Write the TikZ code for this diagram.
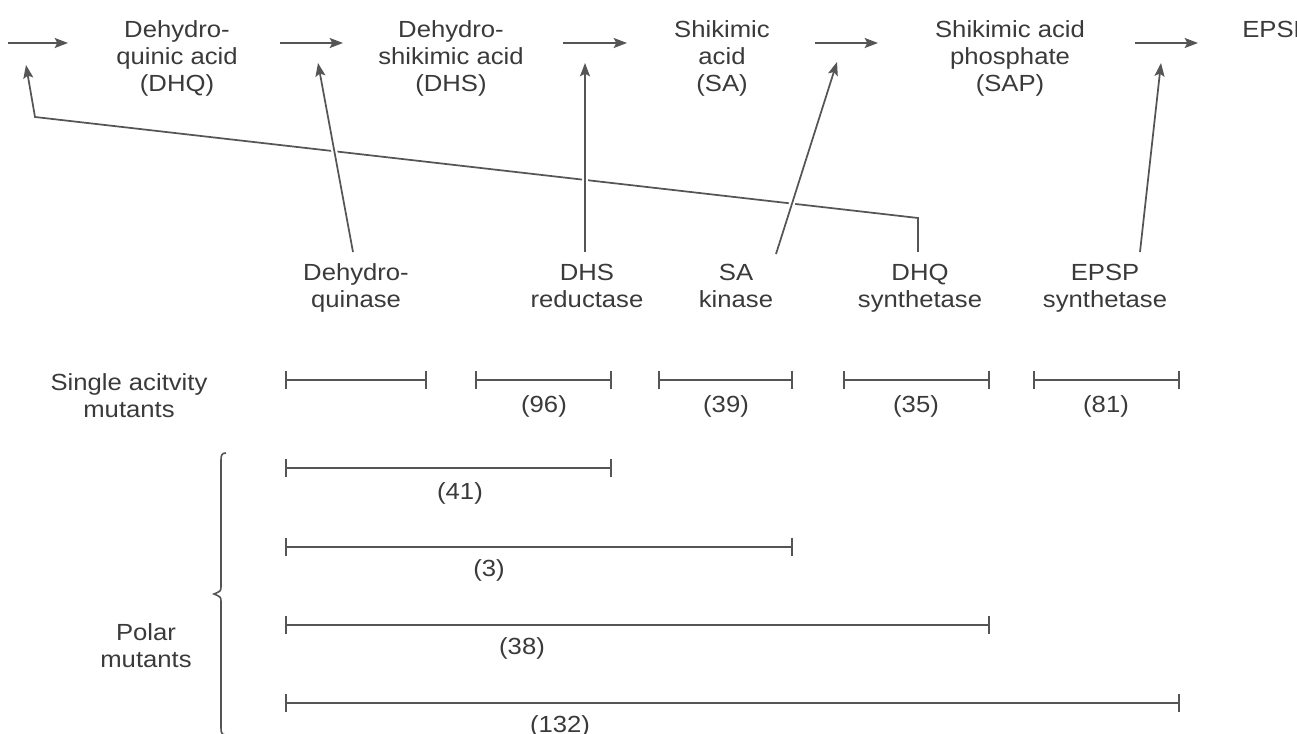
\documentclass[tikz,border=0pt]{standalone}
\usepackage{fontspec}
\setmainfont[FakeStretch=1.1]{Liberation Sans}
\usetikzlibrary{arrows.meta}
\definecolor{ink}{HTML}{3A3A3A}
\definecolor{rule}{HTML}{555555}

\tikzset{
  lbl/.style={font=\fontsize{17.5}{20.25}\selectfont, text=ink, align=center,
              inner sep=0pt, anchor=base},
  num/.style={lbl},
  conn/.style={draw=rule, line width=1.3pt,
               -{Stealth[length=10pt,width=7.5pt,inset=2pt]}},
  enz/.style={conn, preaction={draw=white, line width=4.5pt, -}},
  feedback/.style={conn},
  span/.style={draw=rule, line width=1.2pt,
               {Bar[width=14pt]}-{Bar[width=14pt]}},
  brace/.style={draw=rule, line width=1.2pt}
}

\begin{document}
\begin{tikzpicture}[x=0.75pt, y=-0.75pt]
  \useasboundingbox (0,0) rectangle (1297,734);
  \clip (0,0) rectangle (1297,734);
  \fill[white] (0,0) rectangle (1297,734);

  % pathway intermediates (base anchor sits on the last line)
  \node[lbl] (dhq)  at (177,92)  {Dehydro-\\quinic acid\\(DHQ)};
  \node[lbl] (dhs)  at (451,92)  {Dehydro-\\shikimic acid\\(DHS)};
  \node[lbl] (sa)   at (722,92)  {Shikimic\\acid\\(SA)};
  \node[lbl] (sap)  at (1010,92) {Shikimic acid\\phosphate\\(SAP)};
  \node[lbl, anchor=base west] (epsp) at (1242,38) {EPSP};

  % pathway steps
  \coordinate (s0a) at (8,43);    \coordinate (s0b) at (68,43);
  \coordinate (s1a) at (280,43);  \coordinate (s1b) at (343,43);
  \coordinate (s2a) at (563,43);  \coordinate (s2b) at (627,43);
  \coordinate (s3a) at (815,43);  \coordinate (s3b) at (878,43);
  \coordinate (s4a) at (1135,43); \coordinate (s4b) at (1198,43);
  \draw[conn] (s0a) -- (s0b);
  \draw[conn] (s1a) -- (s1b);
  \draw[conn] (s2a) -- (s2b);
  \draw[conn] (s3a) -- (s3b);
  \draw[conn] (s4a) -- (s4b);

  % enzymes
  \node[lbl] (e1) at (356,308) {Dehydro-\\quinase};
  \node[lbl] (e2) at (587,308) {DHS\\reductase};
  \node[lbl] (e3) at (736,308) {SA\\kinase};
  \node[lbl] (e4) at (920,308) {DHQ\\synthetase};
  \node[lbl] (e5) at (1105,308) {EPSP\\synthetase};

  \coordinate (k1) at (353,252);  \coordinate (t1) at (318,63);
  \coordinate (k2) at (585,252);  \coordinate (t2) at (585,63);
  \coordinate (k3) at (776,254);  \coordinate (t3) at (837,62);
  \coordinate (k4) at (918,252);  \coordinate (c4a) at (918,218);
  \coordinate (c4b) at (35,117);  \coordinate (t4) at (26,65);
  \coordinate (k5) at (1140,252); \coordinate (t5) at (1161,63);

  % DHQ synthetase acts on the first step, drawn beneath the other arrows
  \draw[feedback] (k4) -- (c4a) -- (c4b) -- (t4);
  \draw[enz] (k1) -- (t1);
  \draw[enz] (k2) -- (t2);
  \draw[enz] (k3) -- (t3);
  \draw[conn] (k5) -- (t5);

  % single activity mutants
  \node[lbl] (single) at (129,417) {Single acitvity\\mutants};
  \draw[span] (285,380) -- (427,380);
  \draw[span] (475,380) -- (612,380);
  \draw[span] (658,380) -- (793,380);
  \draw[span] (843,380) -- (990,380);
  \draw[span] (1033,380) -- (1180,380);
  \node[num] (n96) at (544,413) {(96)};
  \node[num] (n39) at (726,413) {(39)};
  \node[num] (n35) at (916,413) {(35)};
  \node[num] (n81) at (1106,413) {(81)};

  % polar mutants
  \node[lbl] (polar) at (146,667) {Polar\\mutants};
  \draw[brace] (226,453) .. controls (222,453) and (221,455) .. (221,460)
    -- (221,586) .. controls (221,591) .. (214,594)
    .. controls (221,597) .. (221,602)
    -- (221,728) .. controls (221,733) and (222,735) .. (226,735);
  \draw[span] (285,468) -- (612,468);
  \draw[span] (285,547) -- (793,547);
  \draw[span] (285,625) -- (990,625);
  \draw[span] (285,703) -- (1180,703);
  \node[num] (n41)  at (460,499) {(41)};
  \node[num] (n3)   at (489,576) {(3)};
  \node[num] (n38)  at (522,654) {(38)};
  \node[num] (n132) at (560,732) {(132)};
\end{tikzpicture}
\end{document}
